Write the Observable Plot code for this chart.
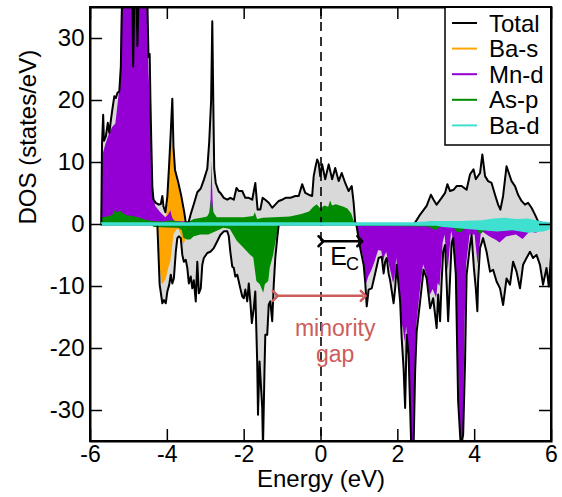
<!DOCTYPE html>
<html><head><meta charset="utf-8">
<script src="https://cdn.jsdelivr.net/npm/d3@7"></script>
<script src="https://cdn.jsdelivr.net/npm/@observablehq/plot@0.6"></script>
<style>body{margin:0;background:#fff}#chart{width:562px;height:497px}</style>
</head><body><div id="chart"></div><script>
// ---- data: [energy (eV), DOS (states/eV)] ----
const totalUp = [[-5.72,0],[-5.70,13],[-5.67,17.7],[-5.65,13.5],[-5.60,14.2],[-5.55,16.4],[-5.51,14.8],[-5.47,16.8],[-5.43,18.6],[-5.38,20.7],[-5.34,20.4],[-5.30,21.2],[-5.25,21.5],[-5.21,25.5],[-5.18,36],[-4.91,36],[-4.89,25.5],[-4.86,36],[-4.80,36],[-4.78,28.8],[-4.75,36],[-4.52,36],[-4.49,27],[-4.46,27.5],[-4.44,20],[-4.42,14],[-4.39,6],[-4.36,4],[-4.30,3.5],[-4.22,3.2],[-4.17,3.3],[-4.13,4.6],[-4.10,2.9],[-4.05,2],[-4.00,4.5],[-3.95,10],[-3.91,15],[-3.87,20.3],[-3.84,12.5],[-3.80,8.8],[-3.72,6.9],[-3.64,4.7],[-3.56,2],[-3.52,0.3],[-3.45,0.3],[-3.39,1.7],[-3.30,3.5],[-3.22,5.2],[-3.13,5.8],[-3.05,7.2],[-2.96,9],[-2.91,13.3],[-2.86,20],[-2.83,32.8],[-2.80,18],[-2.78,9],[-2.74,6.7],[-2.66,5.3],[-2.62,5.1],[-2.53,4.3],[-2.44,4.0],[-2.36,4.3],[-2.27,4.0],[-2.20,5.9],[-2.14,5.4],[-2.05,5.4],[-1.97,4.3],[-1.88,4.3],[-1.79,4.0],[-1.71,6.7],[-1.65,2.4],[-1.58,2.4],[-1.52,4.3],[-1.45,4.0],[-1.36,3.5],[-1.27,2.7],[-1.19,3.2],[-1.10,3.8],[-1.01,4.0],[-0.92,4.3],[-0.80,4.3],[-0.67,4.6],[-0.58,4.6],[-0.49,6.5],[-0.41,5.1],[-0.32,4.8],[-0.23,4.6],[-0.19,7.8],[-0.15,9.1],[-0.10,10.5],[-0.06,9.9],[-0.02,7.8],[0.03,9.7],[0.11,7.3],[0.20,9.7],[0.29,7.3],[0.37,9.1],[0.46,7.0],[0.54,8.3],[0.63,6.7],[0.72,5.4],[0.80,6.2],[0.85,3.5],[0.89,0.3],[0.95,0],[2.40,0],[2.45,0.3],[2.58,1.6],[2.75,3.0],[2.86,4.8],[2.93,4.0],[3.01,3.2],[3.14,4.3],[3.23,5.1],[3.29,6.5],[3.36,5.4],[3.45,5.6],[3.53,6.2],[3.66,6.2],[3.79,5.6],[3.88,8.1],[3.97,8.9],[4.03,7.3],[4.14,8.3],[4.20,11.3],[4.27,7.8],[4.35,7.0],[4.44,6.7],[4.53,4.8],[4.61,3.2],[4.67,2.4],[4.74,4.6],[4.83,9.4],[4.90,8.1],[4.96,7.0],[5.05,6.2],[5.13,4.8],[5.22,3.8],[5.31,3.2],[5.39,3.5],[5.48,2.7],[5.57,1.6],[5.65,0.5],[5.74,0.3],[6.00,0.2]];
const totalDown = [[-5.72,0],[-4.26,0],[-4.20,-9.7],[-4.13,-12.7],[-4.09,-12.2],[-4.04,-12.7],[-4.00,-10.8],[-3.95,-9.7],[-3.91,-8.1],[-3.87,-9.5],[-3.83,-8.7],[-3.78,-4.4],[-3.74,-2.2],[-3.70,-1.9],[-3.65,-2.2],[-3.61,-4.9],[-3.57,-6.0],[-3.52,-5.7],[-3.48,-7.0],[-3.44,-9.5],[-3.39,-8.4],[-3.35,-10.3],[-3.31,-9.0],[-3.26,-12.4],[-3.22,-6.0],[-3.18,-11.1],[-3.13,-10.3],[-3.09,-6.5],[-3.05,-5.4],[-2.96,-4.6],[-2.88,-4.4],[-2.79,-3.8],[-2.70,-2.7],[-2.62,-1.7],[-2.53,-1.1],[-2.44,-1.1],[-2.40,-1.9],[-2.36,-4.4],[-2.31,-6.8],[-2.27,-7.0],[-2.23,-8.4],[-2.18,-8.1],[-2.14,-9.2],[-2.10,-10.3],[-2.05,-11.6],[-2.01,-11.9],[-1.97,-10.5],[-1.92,-12.4],[-1.88,-9.5],[-1.84,-12.4],[-1.80,-15.9],[-1.75,-13.5],[-1.71,-10.8],[-1.66,-22.4],[-1.64,-30.7],[-1.60,-22.1],[-1.57,-25.3],[-1.53,-29.6],[-1.51,-36],[-1.47,-23.2],[-1.45,-17.8],[-1.40,-17.8],[-1.36,-12.9],[-1.32,-12.4],[-1.27,-15.6],[-1.23,-9.7],[-1.19,-5.4],[-1.14,-2.2],[-1.10,0],[0.92,0],[1.02,-3.8],[1.11,-6.5],[1.15,-9.2],[1.19,-13.2],[1.24,-10.5],[1.32,-10.3],[1.41,-7.9],[1.50,-5.4],[1.58,-5.2],[1.63,-7.9],[1.67,-6.0],[1.71,-5.4],[1.76,-7.9],[1.80,-9.0],[1.89,-12.7],[1.93,-10.3],[1.97,-6.5],[2.06,-12.4],[2.10,-18.3],[2.15,-23.2],[2.19,-29.6],[2.23,-17.8],[2.28,-21.0],[2.32,-29.6],[2.35,-36],[2.41,-36],[2.45,-23.7],[2.49,-17.3],[2.58,-12.4],[2.67,-7.3],[2.75,-8.7],[2.84,-13.5],[2.92,-11.9],[3.01,-16.7],[3.05,-11.3],[3.10,-15.6],[3.14,-9.2],[3.18,-4.4],[3.23,-3.3],[3.31,-15.6],[3.40,-3.0],[3.44,-2.2],[3.51,-8.1],[3.57,-28.5],[3.64,-36],[3.70,-33.9],[3.75,-22.1],[3.79,-8.1],[3.88,-3.3],[3.92,-1.7],[3.98,-7.0],[4.03,-10.3],[4.07,-14.0],[4.09,-9.0],[4.14,-3.8],[4.22,-2.2],[4.31,-4.4],[4.40,-7.6],[4.48,-7.3],[4.57,-9.2],[4.66,-10.3],[4.74,-13.0],[4.83,-8.7],[4.92,-9.7],[5.00,-6.0],[5.09,-7.6],[5.18,-10.3],[5.26,-6.5],[5.35,-5.4],[5.44,-4.4],[5.52,-5.4],[5.61,-4.9],[5.70,-6.5],[5.78,-9.7],[5.87,-7.0],[5.93,-10],[6.00,-4]];
const baSUp = [[-4.06,0],[-4.03,0.3],[-4.00,2.5],[-3.96,6],[-3.92,11],[-3.89,16.6],[-3.87,14],[-3.84,11.5],[-3.80,9.2],[-3.75,7],[-3.70,6],[-3.65,5.2],[-3.61,4.6],[-3.57,3],[-3.54,0.5],[-3.50,0]];
const baSDown = [[-4.25,0],[-4.22,-3],[-4.17,-8],[-4.13,-9.7],[-4.04,-9],[-4.00,-8.1],[-3.96,-7],[-3.91,-6],[-3.87,-4],[-3.83,-1.7],[-3.74,-0.8],[-3.70,-0.8],[-3.65,-1.5],[-3.61,-2.5],[-3.57,-3.3],[-3.52,-2.5],[-3.48,-0.5],[-3.40,-0.2],[-3.00,0]];
const mnDUp = [[-5.72,0],[-5.70,9.9],[-5.67,11.3],[-5.60,12.9],[-5.51,14.5],[-5.43,15.6],[-5.34,16.2],[-5.26,20.6],[-5.22,22.7],[-5.19,36],[-4.91,36],[-4.89,25.5],[-4.86,36],[-4.80,36],[-4.78,28.8],[-4.75,36],[-4.52,36],[-4.48,25],[-4.44,19.1],[-4.39,10.5],[-4.35,4.6],[-4.30,2.9],[-4.17,1.9],[-4.04,1.1],[-3.97,1.5],[-3.91,2.2],[-3.86,1.0],[-3.80,0.5],[-3.50,0.4],[-3.00,0.8],[-2.90,1.5],[-2.86,4],[-2.84,10.2],[-2.81,4],[-2.78,1.0],[-2.50,0.5],[-1.00,0.3],[0.90,0.2],[0.95,0],[2.40,0],[2.50,0.2],[5.80,0.2],[6.00,0]];
const mnDDown = [[-4.25,0],[-4.20,-0.5],[-3.50,-0.6],[-2.50,-0.3],[-1.50,-0.4],[-1.10,-0.2],[-1.05,0],[0.92,0],[1.02,-3],[1.11,-5.5],[1.15,-7.5],[1.19,-9.5],[1.24,-8.5],[1.32,-7.5],[1.41,-6],[1.50,-4.2],[1.58,-4.3],[1.63,-6],[1.67,-5],[1.71,-4.5],[1.76,-6],[1.80,-7],[1.89,-9.5],[1.93,-8.5],[1.97,-5.5],[2.06,-10.5],[2.10,-15.6],[2.15,-17],[2.19,-19],[2.23,-16.5],[2.28,-19.9],[2.32,-25],[2.35,-36],[2.41,-36],[2.45,-23.2],[2.49,-16.5],[2.58,-11],[2.67,-6.5],[2.75,-8],[2.84,-11.5],[2.92,-10.5],[3.01,-11.9],[3.05,-9.5],[3.10,-10],[3.14,-6.5],[3.18,-3],[3.23,-1.7],[3.31,-7.6],[3.40,-1.1],[3.49,-3.8],[3.57,-21],[3.64,-36],[3.70,-36],[3.75,-16],[3.79,-6.5],[3.88,-1.7],[4.01,-1.7],[4.09,-6.5],[4.18,-1.1],[4.40,-2.0],[4.57,-2.6],[4.66,-3.0],[4.83,-2.0],[5.09,-1.7],[5.26,-2.4],[5.44,-1.2],[5.61,-1.4],[5.78,-0.8],[6.00,-0.5]];
const asPUp = [[-5.72,0],[-5.70,1.1],[-5.55,1.2],[-5.42,1.5],[-5.35,2.3],[-5.30,1.8],[-5.22,2.2],[-5.18,1.9],[-5.05,1.4],[-4.90,1.3],[-4.75,1.1],[-4.55,0.7],[-4.40,0.5],[-4.10,0.4],[-3.88,0.6],[-3.60,0.3],[-3.45,0.3],[-3.30,0.8],[-3.10,1.0],[-2.95,1.2],[-2.88,2],[-2.84,4.8],[-2.80,2],[-2.70,1.1],[-2.40,1.1],[-2.00,1.1],[-1.75,1.3],[-1.71,1.9],[-1.65,0.8],[-1.50,1.0],[-1.20,1.1],[-0.80,1.2],[-0.50,1.6],[-0.30,2.0],[-0.20,2.7],[-0.10,3.2],[0.00,2.5],[0.10,3.0],[0.20,2.8],[0.25,3.8],[0.30,3.0],[0.40,3.2],[0.50,3.0],[0.60,2.8],[0.70,2.5],[0.80,1.7],[0.89,0],[2.45,0],[2.70,0.3],[3.00,0.5],[3.30,0.5],[3.60,0.3],[4.00,0.2],[5.70,0.2],[5.80,0]];
const asPDown = [[-4.40,0],[-4.35,-0.5],[-3.70,-0.6],[-3.61,-1.0],[-3.57,-2.2],[-3.48,-2.5],[-3.39,-2.5],[-3.31,-2.0],[-3.13,-1.7],[-2.92,-1.7],[-2.70,-1.1],[-2.53,-0.6],[-2.36,-0.8],[-2.18,-2.7],[-2.01,-3.8],[-1.84,-4.9],[-1.75,-5.4],[-1.67,-9.2],[-1.58,-9.7],[-1.49,-11.1],[-1.45,-9.7],[-1.36,-9.2],[-1.32,-7],[-1.23,-4.9],[-1.14,-1.7],[-1.10,0],[0.95,0],[1.00,-0.3],[2.80,-0.4],[3.00,-1.0],[3.10,-0.5],[3.45,-0.4],[3.55,-1.3],[3.68,-1.3],[3.75,-0.4],[4.05,-0.4],[4.12,-1.5],[4.20,-1.5],[4.28,-0.4],[6.00,-0.3]];
const baDUp = [[-5.72,0.3],[-1.00,0.3],[2.40,0.3],[3.00,0.5],[3.60,0.5],[4.20,0.6],[4.50,0.9],[4.80,1.0],[5.10,0.8],[5.40,0.9],[5.70,0.5],[6.00,0.3]];
const baDDown = [[-5.72,-0.3],[3.00,-0.3],[3.20,-0.5],[3.80,-0.8],[4.20,-1.0],[4.60,-1.2],[5.00,-1.0],[5.40,-1.4],[5.80,-1.2],[6.00,-0.8]];

const xTicks = [-6,-4,-2,0,2,4,6];
const yTicks = [-30,-20,-10,0,10,20,30];
const legendLabels = ["Total","Ba-s","Mn-d","As-p","Ba-d"];
const colors = {total:"#000000", baS:"#ffa500", mnD:"#9400d3", asP:"#008b00", baD:"#40e0d0", gray:"#d9d9d9", note:"#cd5c5c"};
const legendColors = [colors.total, colors.baS, colors.mnD, colors.asP, colors.baD];

// annotations (data coordinates)
const gapArrow = [{x1:-1.19, x2:1.10, y:-11.5}];
const ecArrow = [{x1:0.0, x2:1.01, y:-2.7}];
const gapText = [{x:0.37, y:-16.8, t:"minority"},{x:0.37, y:-21.0, t:"gap"}];
const ecText = [{x:0.46, y:-5.2, t:"E", s:25},{x:0.82, y:-6.4, t:"C", s:18}];

const rows = a => a.map(([e,d]) => ({e,d}));
const font = "'Liberation Sans', Arial, Helvetica, sans-serif";
const area = (a, fill) => Plot.areaY(rows(a), {x:"e", y:"d", fill, clip:true});

const W = 562, H = 497, mL = 90, mR = 11, mT = 7, mB = 56;
const fw = W - mL - mR, fh = H - mT - mB, tk = 12;

const plot = Plot.plot({
  width: W, height: H,
  marginLeft: mL, marginRight: mR, marginTop: mT, marginBottom: mB,
  x: {domain: [-6, 6]},
  y: {domain: [-35, 35]},
  style: {fontFamily: font, background: "white", color: "black"},
  marks: [
    area(totalUp, colors.gray),
    area(totalDown, colors.gray),
    area(baSUp, colors.baS),
    area(baSDown, colors.baS),
    area(mnDUp, colors.mnD),
    area(mnDDown, colors.mnD),
    area(asPUp, colors.asP),
    area(asPDown, colors.asP),
    Plot.ruleX([0], {stroke:"black", strokeWidth:1.6, strokeDasharray:"9,6"}),
    Plot.lineY(rows(totalUp), {x:"e", y:"d", stroke:"black", strokeWidth:2, clip:true}),
    Plot.lineY(rows(totalDown), {x:"e", y:"d", stroke:"black", strokeWidth:2, clip:true}),
    area(baDUp, colors.baD),
    area(baDDown, colors.baD),
    Plot.link(gapArrow, {x1:"x1", x2:"x2", y1:"y", y2:"y", stroke:colors.note, strokeWidth:2.5, markerStart:"arrow", markerEnd:"arrow"}),
    Plot.link(ecArrow, {x1:"x1", x2:"x2", y1:"y", y2:"y", stroke:"black", strokeWidth:2.5, markerStart:"arrow", markerEnd:"arrow"}),
    Plot.text(gapText, {x:"x", y:"y", text:"t", fill:colors.note, fontSize:23, textAnchor:"middle"}),
    Plot.text(ecText, {x:"x", y:"y", text:"t", fill:"black", fontSize:d=>d.s, textAnchor:"middle"}),
    Plot.frame({stroke:"black", strokeWidth:2}),
    Plot.tickX(xTicks, {x:d=>d, insetTop: fh - tk, stroke:"black", strokeWidth:1.5}),
    Plot.tickX(xTicks, {x:d=>d, insetBottom: fh - tk, stroke:"black", strokeWidth:1.5}),
    Plot.tickY(yTicks, {y:d=>d, insetRight: fw - tk, stroke:"black", strokeWidth:1.5}),
    Plot.tickY(yTicks, {y:d=>d, insetLeft: fw - tk, stroke:"black", strokeWidth:1.5}),
    Plot.axisX({ticks: xTicks, tickSize: 0, tickPadding: 4, fontSize: 23, tickFormat: d => String(d), label: null}),
    Plot.axisY({ticks: yTicks, tickSize: 0, tickPadding: 6, fontSize: 24, tickFormat: d => String(d), label: null}),
    Plot.text(["Energy (eV)"], {frameAnchor:"bottom", dy: 45, text:d=>d, fontSize:24, fill:"black"}),
    Plot.text(["DOS (states/eV)"], {frameAnchor:"left", dx: -62, rotate:-90, text:d=>d, fontSize:24, fill:"black"})
  ]
});
document.getElementById("chart").append(plot);

// legend box (top right, inside the frame)
const svg = d3.select(plot);
const lg = svg.append("g");
const lx = 445, ly = mT, lw = W - mR - lx, lh = 138;
lg.append("rect").attr("x", lx).attr("y", ly).attr("width", lw).attr("height", lh)
  .attr("fill", "white").attr("stroke", "black").attr("stroke-width", 1.5);
legendLabels.forEach((lab, i) => {
  const yy = ly + 16 + i * 25.6;
  lg.append("line").attr("x1", 452).attr("x2", 477).attr("y1", yy).attr("y2", yy)
    .attr("stroke", legendColors[i]).attr("stroke-width", 2);
  lg.append("text").attr("x", 489).attr("y", yy).attr("dy", "0.36em")
    .attr("text-anchor", "start")
    .attr("font-family", font).attr("font-size", 24).attr("fill", "black").text(lab);
});
// redraw the frame edges over the legend box
svg.append("rect").attr("x", mL).attr("y", mT).attr("width", fw).attr("height", fh)
  .attr("fill", "none").attr("stroke", "black").attr("stroke-width", 2);
</script></body></html>
